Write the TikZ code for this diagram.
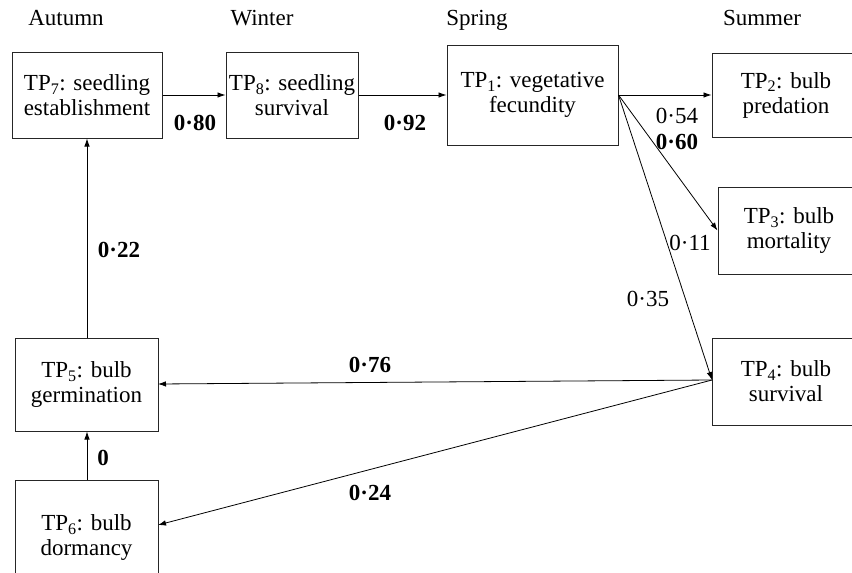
\documentclass[tikz,border=0pt]{standalone}
\usepackage{fontspec}
\setmainfont{Liberation Serif}
\usetikzlibrary{arrows.meta}
\begin{document}
\begin{tikzpicture}[x=1pt,y=-1pt,
  box/.style={draw=black!85,line width=1pt,inner sep=0pt,align=center,
    font=\fontsize{23}{25}\selectfont},
  season/.style={font=\fontsize{23}{24}\selectfont,inner sep=0pt,anchor=base},
  lab/.style={font=\fontsize{23}{24}\selectfont,inner sep=0pt},
  blab/.style={font=\fontsize{23}{24}\selectfont\bfseries,inner sep=0pt},
  arr/.style={draw=black,line width=0.8pt,-{Latex[length=8pt,width=5.5pt]}}]
\useasboundingbox (0,0) rectangle (852,573);
\clip (0,0) rectangle (852,573);
\fill[white] (0,0) rectangle (852,573);
% seasons
\node[season] (autumn) at (66,25) {Autumn};
\node[season] (winter) at (262,25) {Winter};
\node[season] (spring) at (477,25) {Spring};
\node[season] (summer) at (762,25) {Summer};
% boxes
\node[box,minimum width=150pt,minimum height=86pt] (tp7) at (87,95) {TP\textsubscript{7}: seedling\\establishment};
\node[box,minimum width=132pt,minimum height=86pt] (tp8) at (292,95) {TP\textsubscript{8}: seedling\\survival};
\node[box,minimum width=171pt,minimum height=100pt] (tp1) at (532.5,95) {TP\textsubscript{1}: vegetative\\fecundity};
\node[box,minimum width=148pt,minimum height=84pt] (tp2) at (786,95) {TP\textsubscript{2}: bulb\\predation};
\node[box,minimum width=142pt,minimum height=87pt] (tp3) at (789,230.5) {TP\textsubscript{3}: bulb\\mortality};
\node[box,minimum width=148pt,minimum height=87pt] (tp4) at (786,381.5) {TP\textsubscript{4}: bulb\\survival};
\node[box,minimum width=143pt,minimum height=93pt] (tp5) at (86.5,384.5) {TP\textsubscript{5}: bulb\\germination};
\node[box,minimum width=143pt,minimum height=115pt] (tp6) at (86.5,537.5) {TP\textsubscript{6}: bulb\\dormancy};
% endpoints
\coordinate (tp4out) at (712,380);
\coordinate (tp6in) at (158,525);
\coordinate (tp5in) at (158,384);
% arrows
\draw[arr] (tp7.east) -- (tp8.west);
\draw[arr] (tp8.west -| tp8.east) -- (tp1.west);
\draw[arr] (tp1.east) -- (tp2.west);
\draw[arr] (tp1.east) -- (tp3.west);
\draw[arr] (tp1.east) -- (tp4out);
\draw[arr] (tp4out) -- (tp5in);
\draw[arr] (tp4out) -- (tp6in);
\draw[arr] (tp6.north -| 87,0) -- (tp5.south -| 87,0);
\draw[arr] (tp5.north -| 87,0) -- (tp7.south -| 87,0);
% labels
\node[blab] (l80) at (195,123) {0·80};
\node[blab] (l92) at (405,123) {0·92};
\node[lab] (l54) at (677,116) {0·54};
\node[blab] (l60) at (677,142) {0·60};
\node[lab] (l11) at (690,243) {0·11};
\node[lab] (l35) at (648,299) {0·35};
\node[blab] (l76) at (370,365) {0·76};
\node[blab] (l24) at (370,493) {0·24};
\node[blab] (l0) at (103,458) {0};
\node[blab] (l22) at (119,250) {0·22};
\end{tikzpicture}
\end{document}
